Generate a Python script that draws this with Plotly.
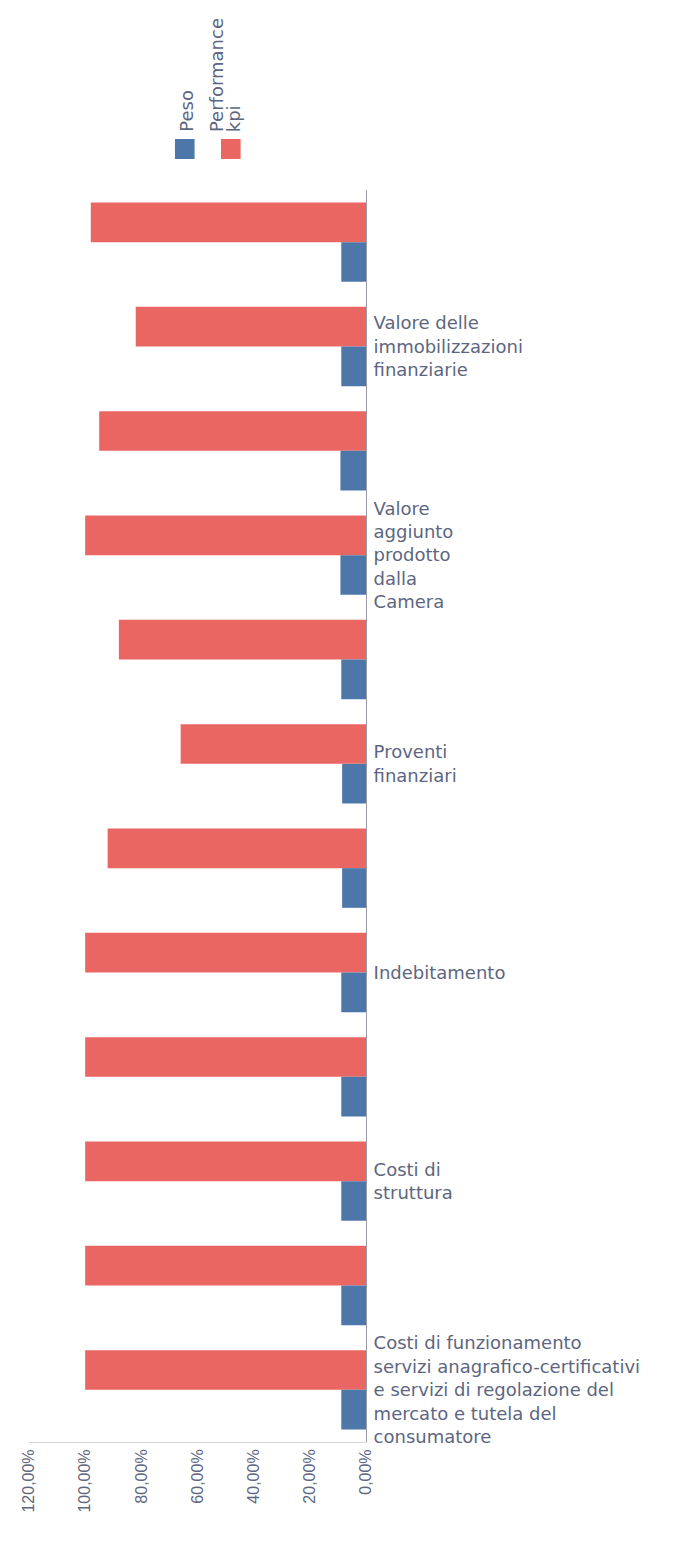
import plotly.graph_objects as go

categories = [
    "",
    "Valore delle<br>immobilizzazioni<br>finanziarie",
    " ",
    "Valore<br>aggiunto<br>prodotto<br>dalla<br>Camera",
    "  ",
    "Proventi<br>finanziari",
    "   ",
    "Indebitamento",
    "    ",
    "Costi di<br>struttura",
    "     ",
    "Costi di funzionamento<br>servizi anagrafico-certificativi<br>e servizi di regolazione del<br>mercato e tutela del<br>consumatore",
]
performance_kpi = [98, 82, 95, 100, 88, 66, 92, 100, 100, 100, 100, 100]
peso = [8.8, 8.8, 9.1, 9.1, 8.8, 8.5, 8.5, 8.8, 8.8, 8.8, 8.8, 8.8]
tick_vals = [0, 20, 40, 60, 80, 100, 120]
tick_text = ["0,00%", "20,00%", "40,00%", "60,00%", "80,00%", "100,00%", "120,00%"]

RED = "#ea6662"
BLUE = "#4d77a9"
TXT = "#5d6680"

W, H = 675, 1536          # page has an 8px body margin
ML, MR, MT, MB = 14, 317, 182, 102
PW, PH = W - ML - MR, H - MT - MB


def px(xp):   # page x pixel -> paper x
    return (xp - 8 - ML) / PW


def py(yp):   # page y pixel -> paper y
    return 1 - (yp - 8 - MT) / PH


ypos = list(range(len(categories)))

fig = go.Figure()
fig.add_trace(go.Bar(
    name="Performance kpi", y=ypos, x=performance_kpi, orientation="h",
    marker=dict(color=RED, line=dict(width=0)),
))
fig.add_trace(go.Bar(
    name="Peso", y=ypos, x=peso, orientation="h",
    marker=dict(color=BLUE, line=dict(width=0)),
))

fig.update_layout(
    width=W, height=H,
    barmode="group", bargap=0.24, bargroupgap=0,
    plot_bgcolor="white", paper_bgcolor="white",
    showlegend=False,
    margin=dict(l=ML, r=MR, t=MT, b=MB),
    font=dict(family="Liberation Sans, Arial, sans-serif", color=TXT, size=16),
    xaxis=dict(
        range=[120, 0], tickvals=tick_vals, ticktext=tick_text,
        tickangle=-90, showgrid=False, zeroline=False,
        showline=True, linecolor="#d4d6dc", linewidth=1,
        ticks="", tickfont=dict(size=16, color=TXT),
    ),
    yaxis=dict(
        autorange="reversed", side="right",
        tickvals=ypos, ticktext=categories,
        showgrid=False, zeroline=False,
        showline=True, linecolor="#9a9ca4", linewidth=1,
        ticks="", ticklabelstandoff=3,
        tickfont=dict(size=18, color=TXT, family="DejaVu Sans, sans-serif"),
    ),
)

# legend (rotated, as in the reference)
fig.add_shape(type="rect", xref="paper", yref="paper",
              x0=px(171), x1=px(191), y0=py(159), y1=py(139),
              fillcolor=BLUE, line=dict(width=0))
fig.add_shape(type="rect", xref="paper", yref="paper",
              x0=px(218), x1=px(238), y0=py(159), y1=py(139),
              fillcolor=RED, line=dict(width=0))
legend_font = dict(size=18, color=TXT, family="DejaVu Sans, sans-serif")
fig.add_annotation(text="Peso", textangle=-90, showarrow=False,
                   xref="paper", yref="paper", x=px(182), y=py(134),
                   xanchor="center", yanchor="bottom", font=legend_font)
fig.add_annotation(text="Performance", textangle=-90, showarrow=False,
                   xref="paper", yref="paper", x=px(213), y=py(134),
                   xanchor="center", yanchor="bottom", font=legend_font)
fig.add_annotation(text="kpi", textangle=-90, showarrow=False,
                   xref="paper", yref="paper", x=px(231), y=py(134),
                   xanchor="center", yanchor="bottom", font=legend_font)

fig.write_html("out.html")
